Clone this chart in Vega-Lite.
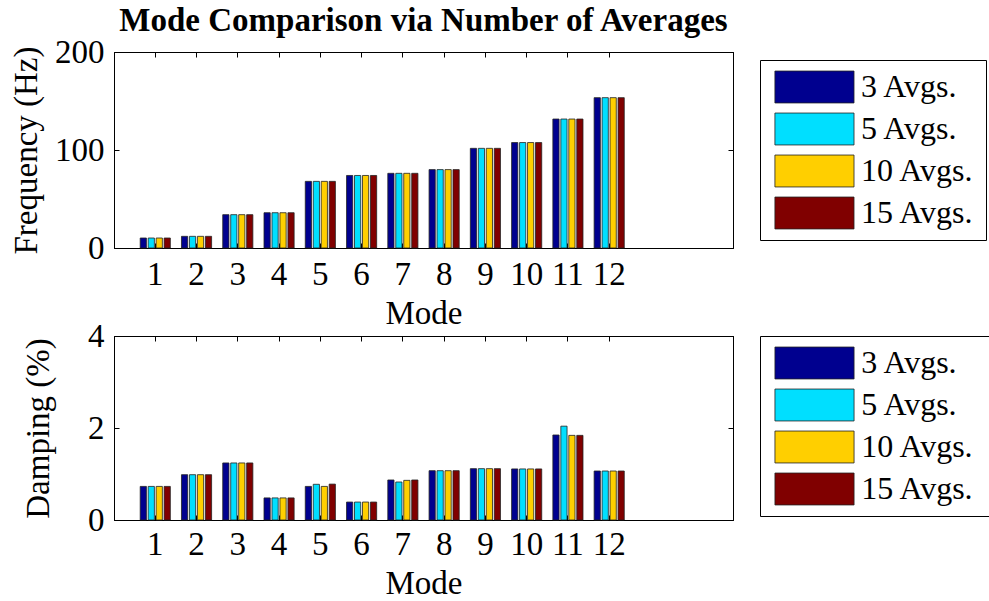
{
  "$schema": "https://vega.github.io/schema/vega-lite/v6.json",
  "autosize": {"type": "pad"},
  "padding": {"top": 4, "left": 10, "right": 0, "bottom": 0},
  "background": "white",
  "datasets": {
    "freq": [
      {"mode": 1, "series": "3 Avgs.", "value": 10.2}, {"mode": 1, "series": "5 Avgs.", "value": 10.2}, {"mode": 1, "series": "10 Avgs.", "value": 10.2}, {"mode": 1, "series": "15 Avgs.", "value": 10.2},
      {"mode": 2, "series": "3 Avgs.", "value": 11.9}, {"mode": 2, "series": "5 Avgs.", "value": 11.9}, {"mode": 2, "series": "10 Avgs.", "value": 11.9}, {"mode": 2, "series": "15 Avgs.", "value": 11.9},
      {"mode": 3, "series": "3 Avgs.", "value": 34.0}, {"mode": 3, "series": "5 Avgs.", "value": 34.0}, {"mode": 3, "series": "10 Avgs.", "value": 34.0}, {"mode": 3, "series": "15 Avgs.", "value": 34.0},
      {"mode": 4, "series": "3 Avgs.", "value": 36.0}, {"mode": 4, "series": "5 Avgs.", "value": 36.0}, {"mode": 4, "series": "10 Avgs.", "value": 36.0}, {"mode": 4, "series": "15 Avgs.", "value": 36.0},
      {"mode": 5, "series": "3 Avgs.", "value": 68.0}, {"mode": 5, "series": "5 Avgs.", "value": 68.0}, {"mode": 5, "series": "10 Avgs.", "value": 68.0}, {"mode": 5, "series": "15 Avgs.", "value": 68.0},
      {"mode": 6, "series": "3 Avgs.", "value": 74.0}, {"mode": 6, "series": "5 Avgs.", "value": 74.0}, {"mode": 6, "series": "10 Avgs.", "value": 74.0}, {"mode": 6, "series": "15 Avgs.", "value": 74.0},
      {"mode": 7, "series": "3 Avgs.", "value": 76.2}, {"mode": 7, "series": "5 Avgs.", "value": 76.2}, {"mode": 7, "series": "10 Avgs.", "value": 76.2}, {"mode": 7, "series": "15 Avgs.", "value": 76.2},
      {"mode": 8, "series": "3 Avgs.", "value": 80.0}, {"mode": 8, "series": "5 Avgs.", "value": 80.0}, {"mode": 8, "series": "10 Avgs.", "value": 80.0}, {"mode": 8, "series": "15 Avgs.", "value": 80.0},
      {"mode": 9, "series": "3 Avgs.", "value": 101.7}, {"mode": 9, "series": "5 Avgs.", "value": 101.7}, {"mode": 9, "series": "10 Avgs.", "value": 101.7}, {"mode": 9, "series": "15 Avgs.", "value": 101.7},
      {"mode": 10, "series": "3 Avgs.", "value": 107.6}, {"mode": 10, "series": "5 Avgs.", "value": 107.6}, {"mode": 10, "series": "10 Avgs.", "value": 107.6}, {"mode": 10, "series": "15 Avgs.", "value": 107.6},
      {"mode": 11, "series": "3 Avgs.", "value": 131.6}, {"mode": 11, "series": "5 Avgs.", "value": 131.6}, {"mode": 11, "series": "10 Avgs.", "value": 131.6}, {"mode": 11, "series": "15 Avgs.", "value": 131.6},
      {"mode": 12, "series": "3 Avgs.", "value": 153.4}, {"mode": 12, "series": "5 Avgs.", "value": 153.4}, {"mode": 12, "series": "10 Avgs.", "value": 153.4}, {"mode": 12, "series": "15 Avgs.", "value": 153.4}
    ],
    "damp": [
      {"mode": 1, "series": "3 Avgs.", "value": 0.73}, {"mode": 1, "series": "5 Avgs.", "value": 0.73}, {"mode": 1, "series": "10 Avgs.", "value": 0.73}, {"mode": 1, "series": "15 Avgs.", "value": 0.73},
      {"mode": 2, "series": "3 Avgs.", "value": 0.985}, {"mode": 2, "series": "5 Avgs.", "value": 0.985}, {"mode": 2, "series": "10 Avgs.", "value": 0.985}, {"mode": 2, "series": "15 Avgs.", "value": 0.985},
      {"mode": 3, "series": "3 Avgs.", "value": 1.24}, {"mode": 3, "series": "5 Avgs.", "value": 1.24}, {"mode": 3, "series": "10 Avgs.", "value": 1.24}, {"mode": 3, "series": "15 Avgs.", "value": 1.24},
      {"mode": 4, "series": "3 Avgs.", "value": 0.48}, {"mode": 4, "series": "5 Avgs.", "value": 0.48}, {"mode": 4, "series": "10 Avgs.", "value": 0.48}, {"mode": 4, "series": "15 Avgs.", "value": 0.48},
      {"mode": 5, "series": "3 Avgs.", "value": 0.73}, {"mode": 5, "series": "5 Avgs.", "value": 0.776}, {"mode": 5, "series": "10 Avgs.", "value": 0.73}, {"mode": 5, "series": "15 Avgs.", "value": 0.78},
      {"mode": 6, "series": "3 Avgs.", "value": 0.39}, {"mode": 6, "series": "5 Avgs.", "value": 0.39}, {"mode": 6, "series": "10 Avgs.", "value": 0.39}, {"mode": 6, "series": "15 Avgs.", "value": 0.39},
      {"mode": 7, "series": "3 Avgs.", "value": 0.87}, {"mode": 7, "series": "5 Avgs.", "value": 0.826}, {"mode": 7, "series": "10 Avgs.", "value": 0.862}, {"mode": 7, "series": "15 Avgs.", "value": 0.87},
      {"mode": 8, "series": "3 Avgs.", "value": 1.072}, {"mode": 8, "series": "5 Avgs.", "value": 1.072}, {"mode": 8, "series": "10 Avgs.", "value": 1.072}, {"mode": 8, "series": "15 Avgs.", "value": 1.072},
      {"mode": 9, "series": "3 Avgs.", "value": 1.116}, {"mode": 9, "series": "5 Avgs.", "value": 1.116}, {"mode": 9, "series": "10 Avgs.", "value": 1.116}, {"mode": 9, "series": "15 Avgs.", "value": 1.116},
      {"mode": 10, "series": "3 Avgs.", "value": 1.11}, {"mode": 10, "series": "5 Avgs.", "value": 1.11}, {"mode": 10, "series": "10 Avgs.", "value": 1.11}, {"mode": 10, "series": "15 Avgs.", "value": 1.11},
      {"mode": 11, "series": "3 Avgs.", "value": 1.848}, {"mode": 11, "series": "5 Avgs.", "value": 2.04}, {"mode": 11, "series": "10 Avgs.", "value": 1.84}, {"mode": 11, "series": "15 Avgs.", "value": 1.84},
      {"mode": 12, "series": "3 Avgs.", "value": 1.065}, {"mode": 12, "series": "5 Avgs.", "value": 1.065}, {"mode": 12, "series": "10 Avgs.", "value": 1.065}, {"mode": 12, "series": "15 Avgs.", "value": 1.065}
    ],
    "legend": [
      {"series": "3 Avgs."}, {"series": "5 Avgs."}, {"series": "10 Avgs."}, {"series": "15 Avgs."}
    ]
  },
  "columns": 2,
  "spacing": {"row": 88, "column": 27},
  "bounds": "flush",
  "center": true,
  "concat": [
    {
      "width": 619,
      "height": 196,
      "title": {"text": "Mode Comparison via Number of Averages", "fontSize": 33, "fontWeight": "bold", "font": "Liberation Serif", "color": "black", "offset": -2, "anchor": "middle"},
      "data": {"name": "freq"},
      "layer": [
        {
          "mark": {"type": "bar", "stroke": "#222222", "strokeWidth": 0.8},
          "encoding": {
            "x": {"field": "mode", "type": "ordinal", "scale": {"domain": [1, 2, 3, 4, 5, 6, 7, 8, 9, 10, 11, 12, 13, 14], "paddingInner": 0.27, "paddingOuter": 0.635}, "axis": {"values": [1, 2, 3, 4, 5, 6, 7, 8, 9, 10, 11, 12], "title": "Mode", "labelAngle": 0, "titlePadding": 6}},
            "xOffset": {"field": "series", "type": "nominal", "scale": {"domain": ["3 Avgs.", "5 Avgs.", "10 Avgs.", "15 Avgs."], "paddingInner": 0.22}},
            "y": {"field": "value", "type": "quantitative", "scale": {"domain": [0, 200], "nice": false}, "axis": {"values": [0, 100, 200], "title": "Frequency (Hz)", "titlePadding": 11}},
            "color": {"field": "series", "type": "nominal", "scale": {"domain": ["3 Avgs.", "5 Avgs.", "10 Avgs.", "15 Avgs."], "range": ["#00008F", "#00DFFF", "#FFCF00", "#800000"]}, "legend": null}
          }
        },
        {
          "mark": {"type": "bar", "opacity": 0},
          "encoding": {
            "x": {"field": "mode", "type": "ordinal", "axis": {"orient": "top", "values": [1, 2, 3, 4, 5, 6, 7, 8, 9, 10, 11, 12], "labels": false, "title": null}},
            "xOffset": {"field": "series", "type": "nominal"},
            "y": {"field": "value", "type": "quantitative", "axis": {"orient": "right", "values": [0, 100, 200], "labels": false, "title": null}}
          }
        }
      ],
      "resolve": {"axis": {"x": "independent", "y": "independent"}}
    },
    {
      "width": 226,
      "height": 180,
      "data": {"name": "legend"},
      "layer": [
        {
          "mark": {"type": "rect", "stroke": "#222222", "strokeWidth": 0.8},
          "encoding": {
            "y": {"field": "series", "type": "nominal", "scale": {"domain": ["3 Avgs.", "5 Avgs.", "10 Avgs.", "15 Avgs."], "paddingInner": 0.24, "paddingOuter": 0.263}, "axis": null},
            "x": {"datum": 0.066, "type": "quantitative", "scale": {"domain": [0, 1], "nice": false}, "axis": null},
            "x2": {"datum": 0.416},
            "color": {"field": "series", "type": "nominal", "scale": {"domain": ["3 Avgs.", "5 Avgs.", "10 Avgs.", "15 Avgs."], "range": ["#00008F", "#00DFFF", "#FFCF00", "#800000"]}, "legend": null}
          }
        },
        {
          "mark": {"type": "text", "align": "left", "baseline": "middle", "fontSize": 32, "font": "Liberation Serif", "color": "black"},
          "encoding": {
            "y": {"field": "series", "type": "nominal", "axis": null},
            "x": {"datum": 0.447, "type": "quantitative", "axis": null},
            "text": {"field": "series"}
          }
        }
      ]
    },
    {
      "width": 619,
      "height": 184,
      "data": {"name": "damp"},
      "layer": [
        {
          "mark": {"type": "bar", "stroke": "#222222", "strokeWidth": 0.8},
          "encoding": {
            "x": {"field": "mode", "type": "ordinal", "scale": {"domain": [1, 2, 3, 4, 5, 6, 7, 8, 9, 10, 11, 12, 13, 14], "paddingInner": 0.27, "paddingOuter": 0.635}, "axis": {"values": [1, 2, 3, 4, 5, 6, 7, 8, 9, 10, 11, 12], "title": "Mode", "labelAngle": 0, "titlePadding": 6, "labelPadding": 13}},
            "xOffset": {"field": "series", "type": "nominal", "scale": {"domain": ["3 Avgs.", "5 Avgs.", "10 Avgs.", "15 Avgs."], "paddingInner": 0.22}},
            "y": {"field": "value", "type": "quantitative", "scale": {"domain": [0, 4], "nice": false}, "axis": {"values": [0, 2, 4], "title": "Damping (%)", "titlePadding": 32}},
            "color": {"field": "series", "type": "nominal", "scale": {"domain": ["3 Avgs.", "5 Avgs.", "10 Avgs.", "15 Avgs."], "range": ["#00008F", "#00DFFF", "#FFCF00", "#800000"]}, "legend": null}
          }
        },
        {
          "mark": {"type": "bar", "opacity": 0},
          "encoding": {
            "x": {"field": "mode", "type": "ordinal", "axis": {"orient": "top", "values": [1, 2, 3, 4, 5, 6, 7, 8, 9, 10, 11, 12], "labels": false, "title": null}},
            "xOffset": {"field": "series", "type": "nominal"},
            "y": {"field": "value", "type": "quantitative", "axis": {"orient": "right", "values": [0, 2, 4], "labels": false, "title": null}}
          }
        }
      ],
      "resolve": {"axis": {"x": "independent", "y": "independent"}}
    },
    {
      "width": 230,
      "height": 180,
      "data": {"name": "legend"},
      "layer": [
        {
          "mark": {"type": "rect", "stroke": "#222222", "strokeWidth": 0.8},
          "encoding": {
            "y": {"field": "series", "type": "nominal", "scale": {"domain": ["3 Avgs.", "5 Avgs.", "10 Avgs.", "15 Avgs."], "paddingInner": 0.24, "paddingOuter": 0.263}, "axis": null},
            "x": {"datum": 0.065, "type": "quantitative", "scale": {"domain": [0, 1], "nice": false}, "axis": null},
            "x2": {"datum": 0.409},
            "color": {"field": "series", "type": "nominal", "scale": {"domain": ["3 Avgs.", "5 Avgs.", "10 Avgs.", "15 Avgs."], "range": ["#00008F", "#00DFFF", "#FFCF00", "#800000"]}, "legend": null}
          }
        },
        {
          "mark": {"type": "text", "align": "left", "baseline": "middle", "fontSize": 32, "font": "Liberation Serif", "color": "black"},
          "encoding": {
            "y": {"field": "series", "type": "nominal", "axis": null},
            "x": {"datum": 0.44, "type": "quantitative", "axis": null},
            "text": {"field": "series"}
          }
        }
      ]
    }
  ],
  "config": {
    "font": "Liberation Serif",
    "view": {"stroke": "black", "strokeWidth": 1},
    "axis": {
      "domainColor": "black",
      "domainWidth": 1,
      "tickColor": "black",
      "tickWidth": 1,
      "tickSize": -5,
      "labelPadding": 15,
      "labelColor": "black",
      "titleColor": "black",
      "labelFont": "Liberation Serif",
      "titleFont": "Liberation Serif",
      "labelFontSize": 33,
      "titleFontSize": 33,
      "titleFontWeight": "normal",
      "labelOverlap": false,
      "labelFlush": false,
      "grid": false
    }
  }
}
